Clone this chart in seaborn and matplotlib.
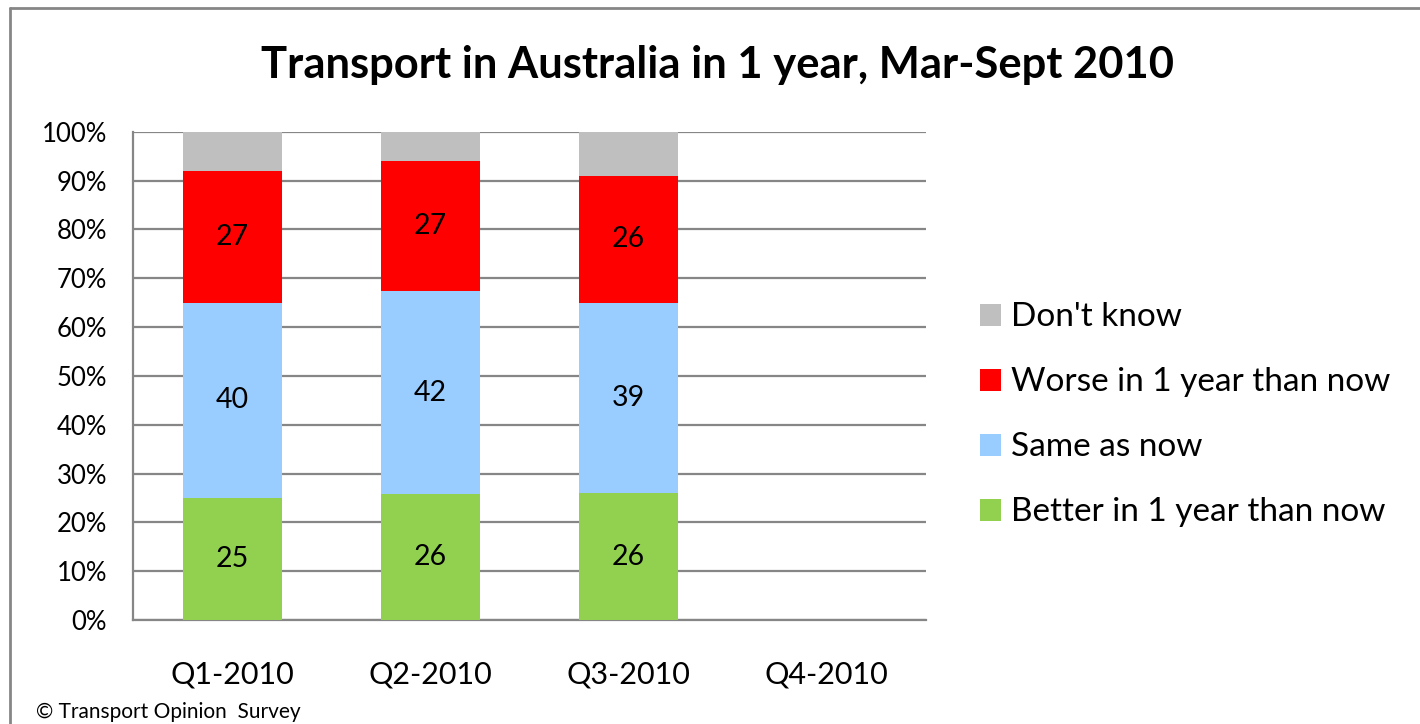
import pandas as pd
import seaborn as sns
import matplotlib.pyplot as plt
from matplotlib.patches import Patch
from matplotlib.lines import Line2D

# === DATA ===
quarters = ["Q1-2010", "Q2-2010", "Q3-2010", "Q4-2010"]
measured = ["Q1-2010", "Q2-2010", "Q3-2010"]
better = [25, 26, 26]
same = [40, 42, 39]
worse = [27, 27, 26]
dont_know = [8, 6, 9]

series_names = ["Better in 1 year than now", "Same as now", "Worse in 1 year than now", "Don't know"]
colours = ["#92D050", "#99CCFF", "#FF0000", "#BFBFBF"]

df = pd.DataFrame({
    "quarter": measured,
    series_names[0]: better,
    series_names[1]: same,
    series_names[2]: worse,
    series_names[3]: dont_know,
})

# 100% stacked: normalise each quarter, then cumulative tops
totals = df[series_names].sum(axis=1)
shares = df[series_names].div(totals, axis=0) * 100
tops = shares.cumsum(axis=1)

sns.set_theme(style="white")
plt.rcParams["font.family"] = ["Lato", "DejaVu Sans"]
plt.rcParams["text.color"] = "black"
plt.rcParams["xtick.color"] = "black"
plt.rcParams["ytick.color"] = "black"

fig = plt.figure(figsize=(14.2, 7.24), dpi=100)
ax = fig.add_axes([0.0939, 0.1436, 0.558, 0.6745])

grid_col = "#868686"

# draw from the top layer down so each segment overlays the one above
for name, col in reversed(list(zip(series_names, colours))):
    sns.barplot(x=df["quarter"], y=tops[name], order=quarters, color=col,
                width=0.5, saturation=1, linewidth=0, ax=ax, zorder=3)

# value labels in the three lower segments
for i, q in enumerate(measured):
    for name in series_names[:3]:
        mid = tops.loc[i, name] - shares.loc[i, name] / 2
        ax.text(i, mid, f"{df.loc[i, name]}", ha="center", va="center",
                fontsize=20.5, color="black", zorder=4)

ax.set_ylim(0, 100)
ax.set_xlim(-0.5, 3.5)
ax.set_yticks(range(0, 101, 10))
ax.set_yticklabels([f"{v}%" for v in range(0, 101, 10)], fontsize=18.5)
ax.tick_params(axis="x", labelsize=22, pad=29, length=0)
ax.tick_params(axis="y", pad=19, length=0)
ax.set_xlabel("")
ax.set_ylabel("")
ax.yaxis.grid(True, color=grid_col, linewidth=1.6, zorder=0)
ax.set_axisbelow(True)
for side in ["top", "right"]:
    ax.spines[side].set_visible(False)
for side in ["left", "bottom"]:
    ax.spines[side].set_color(grid_col)
    ax.spines[side].set_linewidth(1.6)

# legend, top entry first
handles = [Patch(facecolor=c, edgecolor="none") for c in reversed(colours)]
fig.legend(handles, list(reversed(series_names)), loc="center left",
           bbox_to_anchor=(0.6805, 0.427), frameon=False, fontsize=24,
           handlelength=0.63, handleheight=0.63, handletextpad=0.3,
           labelspacing=1.05, borderaxespad=0)

fig.text(0.505, 0.91, "Transport in Australia in 1 year, Mar-Sept 2010",
         ha="center", va="center", fontsize=31.3, fontweight="bold")
fig.text(0.025, 0.017, "\u00a9 Transport Opinion  Survey", ha="left", va="center",
         fontsize=15)

# outer chart frame (cropped at right and bottom)
fig.add_artist(Line2D([10 / 1420, 1], [1 - 8 / 724, 1 - 8 / 724],
                      transform=fig.transFigure, color=grid_col, linewidth=2))
fig.add_artist(Line2D([10 / 1420, 10 / 1420], [0, 1 - 8 / 724],
                      transform=fig.transFigure, color=grid_col, linewidth=2))

fig.savefig("out.png", dpi=100)
